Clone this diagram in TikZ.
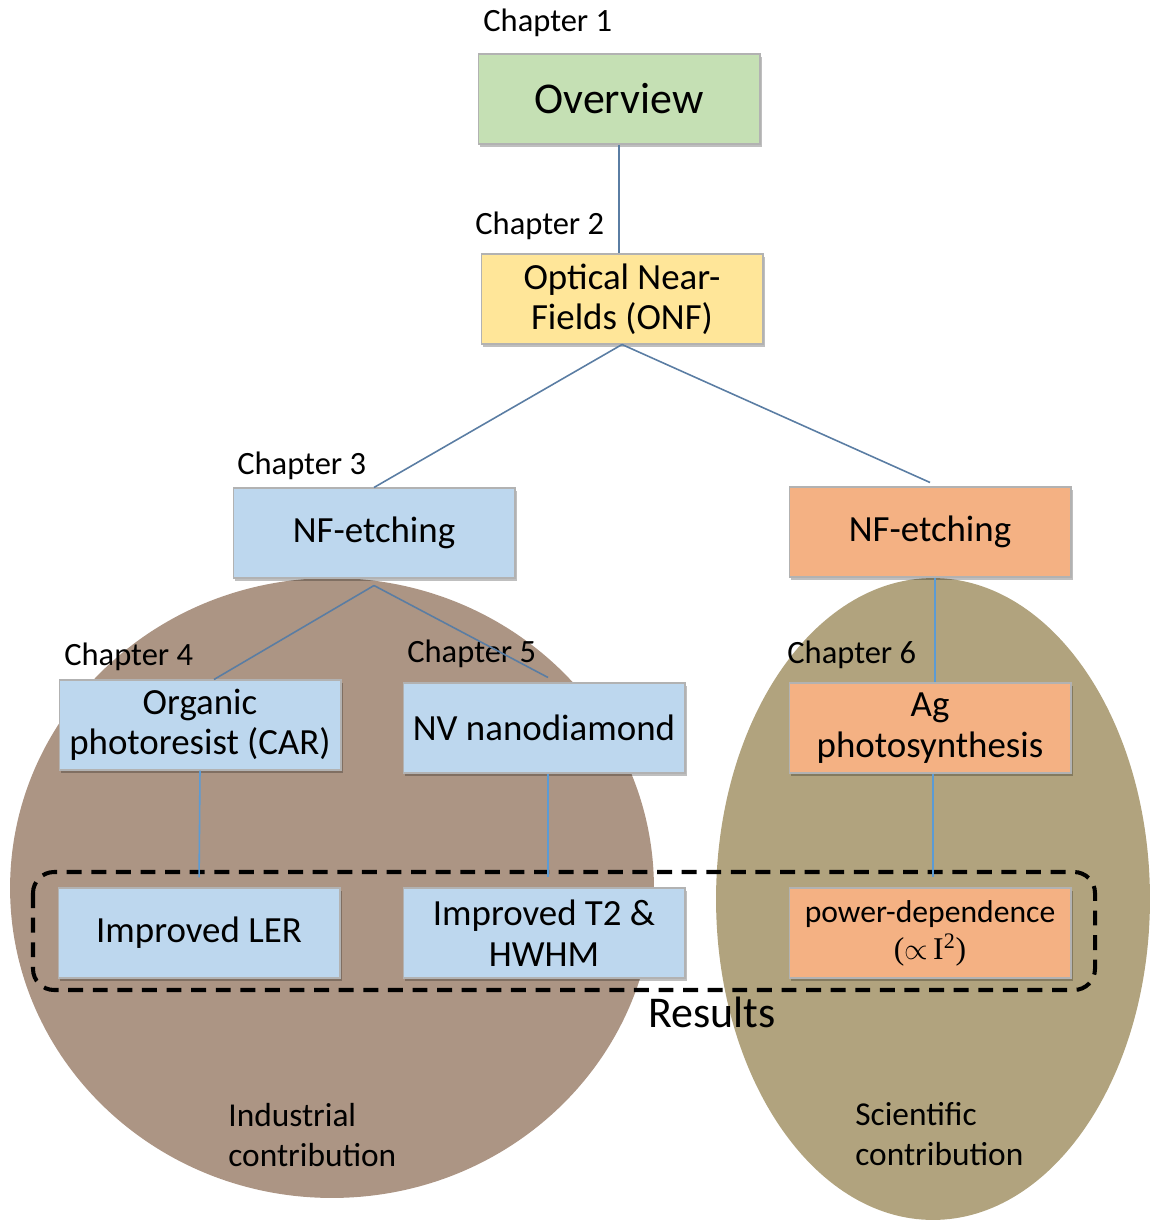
\documentclass[tikz,border=0pt]{standalone}
\usepackage{fontspec}
\setmainfont{Carlito}
\newfontfamily\symserif{Liberation Serif}
\usepackage{xcolor}
\usepackage{tikz}
\usetikzlibrary{shapes,positioning,shadows}

\definecolor{ovgreen}{HTML}{C5E0B4}
\definecolor{onfyellow}{HTML}{FFE699}
\definecolor{etchblue}{HTML}{BDD7EE}
\definecolor{agorange}{HTML}{F4B183}
\definecolor{indbrown}{HTML}{AC9584}
\definecolor{sciolive}{HTML}{B1A37E}
\definecolor{linkdark}{HTML}{5A7DA3}
\definecolor{linklight}{HTML}{5B9BD5}

\begin{document}
\begin{tikzpicture}[
    x=0.02cm, y=-0.02cm,
    topic/.style={rectangle, draw=black!30, line width=0.6pt, minimum width=5.64cm, minimum height=1.8cm,
        align=center, inner sep=2pt, font=\fontsize{21}{23}\selectfont,
        drop shadow={shadow xshift=1pt, shadow yshift=-1.5pt, opacity=0.25, fill=black}},
    chaptag/.style={anchor=base west, inner sep=0pt, font=\fontsize{18.5}{22}\selectfont},
    contrib/.style={anchor=north west, inner sep=0pt, align=left, font=\fontsize{19}{22.7}\selectfont},
    link/.style={draw=linkdark, line width=0.9pt},
    sublink/.style={draw=linklight, line width=0.9pt}
]
    \useasboundingbox (0,0) rectangle (1151,1222);

    % Contribution areas
    \fill[indbrown] (332,888) ellipse [x radius=6.44cm, y radius=6.2cm];
    \fill[sciolive] (933,899) ellipse [x radius=4.34cm, y radius=6.42cm];

    % Results frame
    \draw[line width=2.3pt, dash pattern=on 8.5pt off 5.5pt, rounded corners=12pt]
        (33,872) rectangle (1095,990);

    % Chapters 1 and 2
    \node[topic, fill=ovgreen, font=\fontsize{25}{28}\selectfont] (overview) at (619,99) {Overview};
    \node[topic, fill=onfyellow] (onf) at (622,299) {Optical Near-\\Fields (ONF)};

    % Etching branches
    \node[topic, fill=etchblue] (etchL) at (374,533) {NF-etching};
    \node[topic, fill=agorange] (etchR) at (930,532) {NF-etching};

    % Chapters 4 to 6
    \node[topic, fill=etchblue] (car) at (200,725) {Organic\\photoresist (CAR)};
    \node[topic, fill=etchblue] (nv) at (544,728) {NV nanodiamond};
    \node[topic, fill=agorange] (ag) at (930,728) {Ag\\photosynthesis};

    % Results
    \node[topic, fill=etchblue] (ler) at (199,933) {Improved LER};
    \node[topic, fill=etchblue] (t2) at (544,933) {Improved T2 \&\\HWHM};
    \node[topic, fill=agorange, font=\fontsize{18}{21}\selectfont] (power) at (930,933)
        {power-dependence\\{\symserif(}$\propto$\,{\symserif I\textsuperscript{2})}};

    % Chapter tags
    \node[chaptag] (ch1) at (483,32) {Chapter 1};
    \node[chaptag] (ch2) at (475,235) {Chapter 2};
    \node[chaptag] (ch3) at (237,474) {Chapter 3};
    \node[chaptag] (ch4) at (64,665) {Chapter 4};
    \node[chaptag] (ch5) at (407,662) {Chapter 5};
    \node[chaptag] (ch6) at (787,663) {Chapter 6};

    \node[anchor=base west, inner sep=0pt, font=\fontsize{25}{28}\selectfont] (results) at (648,1027) {Results};
    \node[contrib] (industrial) at (228,1103) {Industrial\\contribution};
    \node[contrib] (scientific) at (855,1102) {Scientific\\contribution};

    % Connectors
    \draw[link] (overview.south) -- (overview.south |- onf.north);
    \draw[link] (onf.south) -- (etchL.north);
    \draw[link] (onf.south) -- ([yshift=0.08cm]etchR.north);
    \draw[link] ([yshift=-0.14cm]etchL.south) -- ([xshift=0.28cm]car.north);
    \draw[link] ([yshift=-0.14cm]etchL.south) -- ([xshift=0.08cm,yshift=0.1cm]nv.north);
    \draw[sublink] ([xshift=0.1cm]etchR.south) -- ([xshift=0.1cm]ag.north);
    \draw[sublink, shorten >=0.2cm] (car.south) -- (ler.north);
    \draw[sublink, shorten >=0.2cm] ([xshift=0.08cm]nv.south) -- ([xshift=0.08cm]t2.north);
    \draw[sublink, shorten >=0.2cm] ([xshift=0.06cm]ag.south) -- ([xshift=0.06cm]power.north);
\end{tikzpicture}
\end{document}
